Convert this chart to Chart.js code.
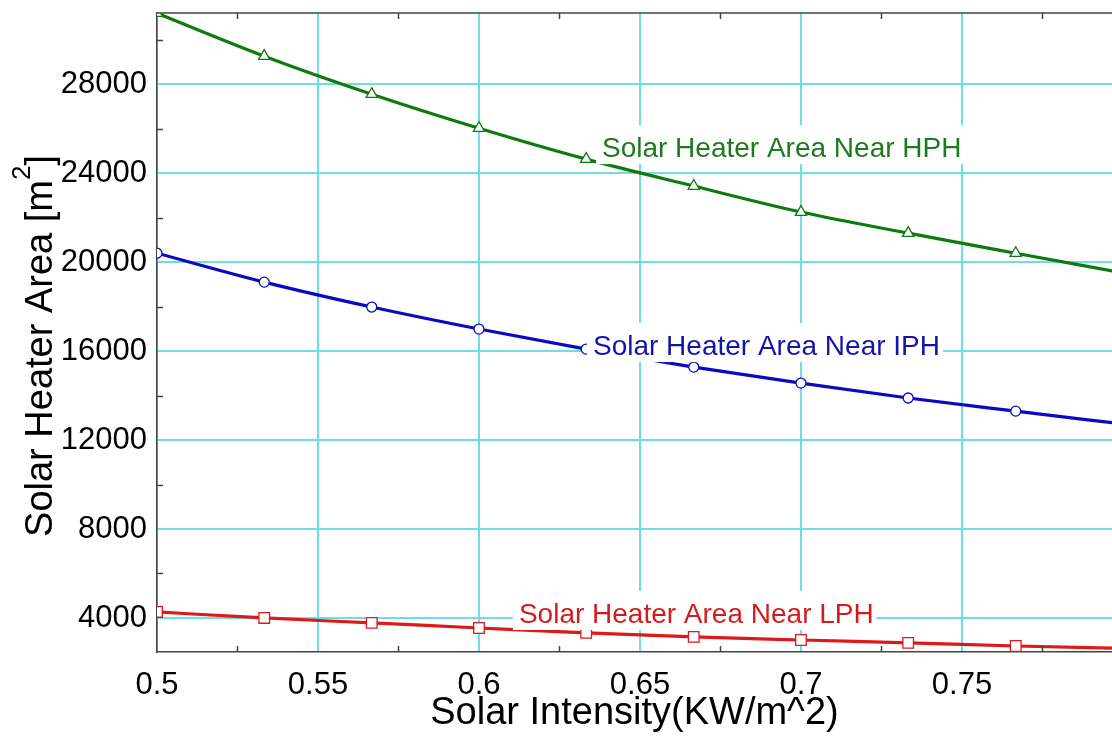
<!DOCTYPE html>
<html>
<head>
<meta charset="utf-8">
<script src="https://cdn.jsdelivr.net/npm/chart.js@4/dist/chart.umd.min.js"></script>
<style>
  html, body { margin: 0; padding: 0; background: #fff; }
</style>
</head>
<body>
<canvas id="chart0" width="1112" height="736"></canvas>
<script>
// values
const intensity = [0.5, 0.5333, 0.5667, 0.6, 0.6333, 0.6667, 0.7, 0.7333, 0.7667, 0.8];
const areaHPH = [31190, 29260, 27550, 26020, 24630, 23420, 22250, 21300, 20400, 19520];
const areaIPH = [20400, 19100, 17980, 16990, 16090, 15280, 14560, 13890, 13300, 12720];
const areaLPH = [4270, 4000, 3780, 3550, 3330, 3150, 3010, 2880, 2740, 2630];
const seriesNames = ["Solar Heater Area Near HPH", "Solar Heater Area Near IPH", "Solar Heater Area Near LPH"];

const xTicks = [0.5, 0.525, 0.55, 0.575, 0.6, 0.625, 0.65, 0.675, 0.7, 0.725, 0.75, 0.775];
const yTicks = [4000, 6000, 8000, 10000, 12000, 14000, 16000, 18000, 20000, 22000, 24000, 26000, 28000, 30000];

const xTitle = "Solar Intensity(KW/m^2)";
const yTitle = "Solar Heater Area [m";
const yTitleSup = "2";

const FONT = '"Liberation Sans", Arial, Helvetica, sans-serif';
const cyan = "#6ddfe0";
const green = "#0f7a0f", blue = "#0a0ac0", red = "#dd1a1a";

function isMajorX(v){ return Math.abs(Math.round(v * 20) - v * 20) < 1e-6; }
function isMajorY(v){ return v % 4000 === 0; }

// no extra room for the end labels, the plot runs to the edge
function noPad(s){
  s.paddingLeft = 0; s.paddingRight = 0; s.paddingTop = 0; s.paddingBottom = 0;
}

// labels written inside the plot, white box behind them
const labelPlugin = {
  id: "curveLabels",
  afterDatasetsDraw(chart, args, opts){
    const ctx = chart.ctx;
    const xs = chart.scales.x, ys = chart.scales.y;
    ctx.save();
    ctx.font = "28px " + FONT;
    ctx.textBaseline = "alphabetic";
    opts.items.forEach(function(it){
      var px = xs.getPixelForValue(it.x);
      var py = ys.getPixelForValue(it.y);
      var w = ctx.measureText(it.text).width;
      ctx.fillStyle = "#fff";
      ctx.fillRect(px - 6, py - 32, w + 9, 39);
      ctx.fillStyle = it.color;
      ctx.fillText(it.text, px, py);
    });
    ctx.restore();
  }
};

// minor ticks, top border, y title with superscript
const framePlugin = {
  id: "frame",
  afterDraw(chart){
    const ctx = chart.ctx, a = chart.chartArea;
    const xs = chart.scales.x, ys = chart.scales.y;
    ctx.save();
    ctx.strokeStyle = "#444";
    ctx.lineWidth = 1.5;
    ctx.beginPath();
    ctx.moveTo(a.left, a.top);
    ctx.lineTo(a.right, a.top);
    xTicks.forEach(function(v){
      if (isMajorX(v)) return;
      var px = Math.round(xs.getPixelForValue(v)) + 0.5;
      ctx.moveTo(px, a.bottom); ctx.lineTo(px, a.bottom - 6);
      ctx.moveTo(px, a.top); ctx.lineTo(px, a.top + 6);
    });
    yTicks.forEach(function(v){
      if (isMajorY(v)) return;
      var py = Math.round(ys.getPixelForValue(v)) + 0.5;
      ctx.moveTo(a.left, py); ctx.lineTo(a.left + 6, py);
    });
    ctx.stroke();

    // y axis title
    ctx.translate(52, 346);
    ctx.rotate(-Math.PI / 2);
    ctx.fillStyle = "#000";
    ctx.textBaseline = "alphabetic";
    ctx.font = "38px " + FONT;
    var w1 = ctx.measureText(yTitle).width;
    var w3 = ctx.measureText("]").width;
    ctx.font = "26px " + FONT;
    var w2 = ctx.measureText(yTitleSup).width;
    var start = -(w1 + w2 + w3) / 2;
    ctx.font = "38px " + FONT;
    ctx.fillText(yTitle, start, 0);
    ctx.fillText("]", start + w1 + w2, 0);
    ctx.font = "26px " + FONT;
    ctx.fillText(yTitleSup, start + w1, -22);
    ctx.restore();
  }
};

function mkSet(label, ys, color, style, radius){
  return {
    label: label,
    data: intensity.map(function(x, i){ return { x: x, y: ys[i] }; }),
    borderColor: color,
    borderWidth: 3.2,
    pointStyle: style,
    pointRadius: radius,
    pointBackgroundColor: "#fff",
    pointBorderColor: color,
    pointBorderWidth: 1.3,
    cubicInterpolationMode: "monotone",
    fill: false
  };
}

function drawChart(){
  var ctx = document.getElementById("chart0").getContext("2d");
  var chart = new Chart(ctx, {
    type: "line",
    data: {
      datasets: [
        mkSet(seriesNames[0], areaHPH, green, "triangle", 6.5),
        mkSet(seriesNames[1], areaIPH, blue, "circle", 5),
        mkSet(seriesNames[2], areaLPH, red, "rect", 7.5)
      ]
    },
    options: {
      responsive: false,
      animation: false,
      devicePixelRatio: 1,
      layout: { autoPadding: false, padding: { left: 0, top: 13, right: 0, bottom: 0 } },
      plugins: {
        legend: { display: false },
        tooltip: { enabled: false },
        curveLabels: {
          items: [
            { text: seriesNames[0], x: 0.6382, y: 24719, color: "#1d7a1d" },
            { text: seriesNames[1], x: 0.6354, y: 15820, color: "#1414a8" },
            { text: seriesNames[2], x: 0.6124, y: 3775, color: "#d41c1c" }
          ]
        }
      },
      scales: {
        x: {
          type: "linear",
          min: 0.5,
          max: 0.7966,
          afterBuildTicks: function(s){ s.ticks = xTicks.map(function(v){ return { value: v }; }); },
          afterFit: function(s){ s.height = 84; noPad(s); },
          grid: {
            drawTicks: false,
            lineWidth: 2,
            color: function(c){ return isMajorX(c.tick.value) ? cyan : "rgba(0,0,0,0)"; }
          },
          border: { display: true, color: "#444", width: 1.5 },
          ticks: {
            autoSkip: false,
            maxRotation: 0,
            padding: 15,
            color: "#000",
            font: { family: FONT, size: 31 },
            callback: function(v){ return isMajorX(v) ? String(Number(v.toFixed(3))) : ""; }
          },
          title: {
            display: true,
            text: xTitle,
            color: "#000",
            font: { family: FONT, size: 38 },
            padding: { top: 0, bottom: 0 }
          }
        },
        y: {
          type: "linear",
          min: 2470,
          max: 31200,
          afterBuildTicks: function(s){ s.ticks = yTicks.map(function(v){ return { value: v }; }); },
          afterFit: function(s){ s.width = 157; noPad(s); },
          grid: {
            drawTicks: false,
            lineWidth: 2,
            color: function(c){ return isMajorY(c.tick.value) ? cyan : "rgba(0,0,0,0)"; }
          },
          border: { display: true, color: "#444", width: 1.5 },
          ticks: {
            autoSkip: false,
            padding: 10,
            color: "#000",
            font: { family: FONT, size: 31 },
            callback: function(v){ return isMajorY(v) ? String(v) : ""; }
          }
        }
      }
    },
    plugins: [labelPlugin, framePlugin]
  });
  return chart;
}

drawChart();
</script>
</body>
</html>
